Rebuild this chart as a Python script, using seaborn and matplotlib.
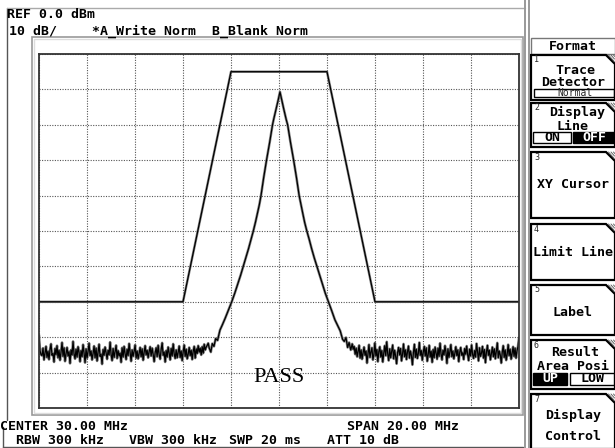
import numpy as np
import pandas as pd
import seaborn as sns
import matplotlib.pyplot as plt
from matplotlib.patches import Rectangle, Polygon

left_noise = [
    -79.4, -83.8, -84.9, -85.2, -83.1, -86.4, -84.4, -82.6, -85.7, -84.0,
    -86.3, -83.5, -81.9, -85.1, -84.6, -87.0, -83.2, -84.9, -82.4, -85.8,
    -83.7, -86.5, -84.2, -81.5, -85.4, -83.0, -86.8, -84.7, -82.9, -85.3,
    -84.1, -87.4, -83.6, -85.0, -81.2, -84.8, -86.1, -83.4, -85.6, -82.7,
    -84.3, -86.9, -83.8, -85.5, -82.1, -84.5, -87.2, -83.3, -85.9, -84.0,
    -81.7, -85.2, -83.9, -86.4, -84.6, -82.5, -85.8, -83.1, -86.7, -84.2,
    -82.0, -85.4, -84.8, -87.6, -83.5, -85.1, -82.8, -84.4, -86.2, -83.7,
    -85.0, -81.4, -84.9, -86.6, -83.2, -85.7, -84.1, -82.3, -86.0, -83.8,
    -85.3, -84.5, -87.1, -83.0, -85.6, -82.6, -84.7, -86.3, -83.4, -85.2,
    -81.8, -84.2, -86.8, -83.6, -85.4, -84.0, -82.2, -85.9, -83.9, -86.1,
    -84.6, -82.9, -85.5, -83.3, -86.5, -84.3, -82.4, -85.0, -83.7, -85.8,
    -84.1, -82.7, -85.3, -83.1, -84.8, -86.9, -84.4, -83.0, -85.5, -82.3,
    -84.9, -86.2, -83.5, -81.6, -85.1, -84.2, -87.0, -83.8, -85.6, -82.8,
    -84.5, -86.4, -83.2, -85.3, -81.9, -84.7, -86.0, -83.6, -85.8, -84.3,
    -82.5, -85.7, -83.9, -86.6, -84.1, -82.2, -85.4, -83.4, -86.1, -84.8,
    -82.9, -85.2, -83.7, -86.3, -84.0, -82.6, -85.9, -83.3, -84.6, -82.4,
    -84.2, -83.1, -85.0, -82.7, -84.5, -82.0, -83.6, -82.8, -82.3, -81.7,
]
right_noise = [
    -81.9, -83.4, -82.6, -84.8, -83.1, -85.5, -84.0, -82.3, -85.9, -83.6,
    -86.2, -84.4, -82.8, -85.1, -83.9, -87.3, -84.6, -82.1, -85.7, -84.2,
    -83.0, -86.4, -84.9, -81.6, -85.3, -83.5, -86.9, -84.1, -82.7, -85.6,
    -83.8, -87.0, -84.5, -82.4, -85.2, -81.3, -84.7, -86.6, -83.3, -85.8,
    -84.0, -82.2, -86.1, -83.7, -85.4, -87.5, -84.3, -82.9, -85.0, -83.2,
    -86.7, -84.8, -81.9, -85.5, -83.6, -86.3, -84.1, -82.5, -85.9, -83.9,
    -85.2, -87.8, -84.4, -82.0, -85.7, -83.4, -86.0, -84.6, -81.5, -85.1,
    -83.8, -86.5, -84.2, -82.6, -85.3, -83.0, -86.8, -84.9, -82.3, -85.6,
    -84.0, -87.1, -83.5, -85.8, -82.8, -84.5, -86.2, -83.1, -85.4, -81.7,
    -84.7, -86.4, -83.7, -85.0, -82.4, -84.3, -87.4, -83.3, -85.7, -84.1,
    -82.1, -85.5, -83.9, -86.1, -84.6, -82.7, -85.2, -83.6, -86.9, -84.2,
    -82.9, -85.1, -84.4, -86.3, -83.2, -84.8, -82.5, -85.0, -86.6, -83.4,
    -85.3, -82.2, -84.9, -86.0, -83.8, -85.6, -81.8, -84.1, -86.7, -83.0,
    -85.4, -84.5, -82.6, -85.9, -83.5, -87.2, -84.2, -82.3, -85.1, -83.7,
    -86.4, -84.7, -82.8, -85.5, -83.3, -86.1, -84.0, -81.6, -85.8, -83.9,
    -85.0, -87.3, -84.3, -82.4, -85.7, -83.6, -86.5, -84.8, -82.1, -85.2,
    -83.4, -86.2, -84.6, -82.7, -85.4, -83.1, -85.9, -83.8, -82.6, -80.1,
]

# carrier skirt: offset from centre (MHz) and level (dBm)
center_mhz = 30.04
peak_offset = [-2.95, -2.88, -2.82, -2.75, -2.68, -2.60, -2.50, -2.40, -2.28, -2.15,
               -2.01, -1.88, -1.76, -1.64, -1.53, -1.42, -1.31, -1.21, -1.11, -1.02,
               -0.94, -0.86, -0.79, -0.68, -0.56, -0.43, -0.31, -0.26, -0.16, -0.07,
               0.0,
               0.07, 0.16, 0.26, 0.32, 0.44, 0.57, 0.69, 0.80, 0.87, 0.95,
               1.03, 1.12, 1.22, 1.32, 1.43, 1.54, 1.65, 1.77, 1.89, 2.02,
               2.16, 2.29, 2.41, 2.51, 2.61, 2.68, 2.75, 2.82, 2.88, 2.95]
peak_db = [-83.0, -84.2, -81.8, -82.6, -80.4, -80.9, -78.0, -76.5, -74.6, -72.4,
           -70.0, -67.5, -65.0, -62.5, -60.0, -57.5, -55.0, -52.5, -50.0, -47.5,
           -45.0, -42.6, -40.0, -35.0, -30.0, -25.0, -20.0, -18.4, -15.5, -12.9,
           -10.7,
           -12.9, -15.6, -18.5, -20.0, -25.0, -30.0, -35.0, -40.0, -42.4, -45.0,
           -47.6, -50.0, -52.4, -55.0, -57.6, -60.0, -62.4, -65.0, -67.6, -70.0,
           -72.6, -75.1, -76.8, -78.2, -80.6, -81.2, -80.1, -82.9, -81.5, -83.6]

# limit line
limit_freq = [20, 26, 28, 32, 34, 40]
limit_db = [-70, -70, -5, -5, -70, -70]

freq = np.concatenate([np.linspace(20.0, 27.05, len(left_noise)),
                       center_mhz + np.array(peak_offset),
                       np.linspace(33.05, 40.0, len(right_noise))])
level = np.concatenate([left_noise, peak_db, right_noise])
trace = pd.DataFrame({"MHz": freq, "dBm": level})
limit = pd.DataFrame({"MHz": limit_freq, "dBm": limit_db})

sns.set_style("white")
plt.rcParams["font.family"] = ["DejaVu Sans Mono", "DejaVu Sans"]

W, H = 615, 448
fig = plt.figure(figsize=(6.15, 4.48), dpi=100)

# screen furniture, in pixel coords
ui = fig.add_axes([0, 0, 1, 1])
ui.set_xlim(0, W)
ui.set_ylim(H, 0)
ui.axis("off")

ui.plot([7, 7], [8, 420], color="#555", lw=1)
ui.plot([7, 525], [8, 8], color="#aaa", lw=1)
ui.plot([3, 3], [427, 448], color="#555", lw=1)
ui.plot([3, 523], [447.5, 447.5], color="#555", lw=1)
ui.add_patch(Rectangle((32, 37), 491, 378, fill=False, ec="#999", lw=1.2))
ui.add_patch(Rectangle((34, 39), 487, 374, fill=False, ec="#ddd", lw=1))
ui.plot([525, 525], [0, H], color="#999", lw=1.4)
ui.plot([528.5, 528.5], [0, H], color="#999", lw=1.4)

tkw = dict(fontsize=9.5, color="black", va="center", fontweight="bold")
ui.text(7, 15, "REF 0.0 dBm", ha="left", **tkw)
ui.text(9, 31, "10 dB/", ha="left", **tkw)
ui.text(92, 31, "*A_Write Norm", ha="left", **tkw)
ui.text(212, 31, "B_Blank Norm", ha="left", **tkw)
ui.text(0, 426, "CENTER 30.00 MHz", ha="left", **tkw)
ui.text(347, 426, "SPAN 20.00 MHz", ha="left", **tkw)
ui.text(16, 441, "RBW 300 kHz", ha="left", **tkw)
ui.text(129, 441, "VBW 300 kHz", ha="left", **tkw)
ui.text(229, 441, "SWP 20 ms", ha="left", **tkw)
ui.text(327, 441, "ATT 10 dB", ha="left", **tkw)

# soft key panel
kx0, kx1 = 531, 615
kc = (kx0 + kx1) / 2
ui.add_patch(Rectangle((kx0, 38), kx1 - kx0, 16, fill=False, ec="#777", lw=1))
ui.text(kc, 47, "Format", ha="center", **tkw)

key_top = [55, 103, 152, 224, 285, 340, 394]
key_bot = [100, 147, 218, 280, 335, 389, 449]
for i, (t, b) in enumerate(zip(key_top, key_bot)):
    ui.add_patch(Polygon([(kx0, b), (kx0, t), (kx1 - 9, t), (kx1, t + 9), (kx1, b)],
                         closed=True, fill=False, ec="black", lw=1.6))
    for d in (2.5, 5, 7.5):
        ui.plot([kx1 - 9 + d, kx1 - 1 + d * 0.1], [t, t + 9 - d], color="#666", lw=0.7)
    ui.text(kx0 + 3, t + 5, str(i + 1), ha="left", fontsize=6, va="center")

ui.text(kc + 2, 70, "Trace", ha="center", **tkw)
ui.text(kc, 83, "Detector", ha="center", **tkw)
ui.add_patch(Rectangle((kx0 + 3, 89), 80, 8, fill=False, ec="black", lw=1))
ui.text(kc + 2, 93, "Normal", ha="center", fontsize=7, va="center")

ui.text(kc + 4, 112, "Display", ha="center", **tkw)
ui.text(kc, 126, "Line", ha="center", **tkw)
ui.add_patch(Rectangle((kx0 + 2, 132), 38, 11, fc="white", ec="black", lw=1))
ui.add_patch(Rectangle((kx0 + 42, 132), 42, 11, fc="black", ec="black", lw=1))
ui.text(kx0 + 21, 137.5, "ON", ha="center", **tkw)
ui.text(kx0 + 63, 137.5, "OFF", ha="center", fontsize=9.5, va="center",
        fontweight="bold", color="white")

ui.text(kc, 184, "XY Cursor", ha="center", **tkw)
ui.text(kc, 252, "Limit Line", ha="center", **tkw)
ui.text(kc, 313, "Label", ha="center", **tkw)

ui.text(kc + 2, 352, "Result", ha="center", **tkw)
ui.text(kc, 366, "Area Posi", ha="center", **tkw)
ui.add_patch(Rectangle((kx0 + 2, 373), 34, 12, fc="black", ec="black", lw=1))
ui.add_patch(Rectangle((kx0 + 39, 373), 44, 12, fc="white", ec="black", lw=1))
ui.text(kx0 + 19, 379, "UP", ha="center", fontsize=9.5, va="center",
        fontweight="bold", color="white")
ui.text(kx0 + 61, 379, "LOW", ha="center", **tkw)

ui.text(kc, 415, "Display", ha="center", **tkw)
ui.text(kc, 436, "Control", ha="center", **tkw)

# measurement graticule
ax = fig.add_axes([39 / W, 1 - 408 / H, 480 / W, 354 / H], zorder=2)
sns.lineplot(data=limit, x="MHz", y="dBm", ax=ax, color="#888", lw=1.8,
             estimator=None, sort=False)
sns.lineplot(data=limit, x="MHz", y="dBm", ax=ax, color="black", lw=0.9,
             estimator=None, sort=False)
sns.lineplot(data=trace, x="MHz", y="dBm", ax=ax, color="#888", lw=1.9,
             estimator=None, sort=False)
sns.lineplot(data=trace, x="MHz", y="dBm", ax=ax, color="black", lw=0.9,
             estimator=None, sort=False)
ax.set_xlim(20, 40)
ax.set_ylim(-100, 0)
ax.set_xticks(np.arange(20, 41, 2))
ax.set_yticks(np.arange(-100, 1, 10))
ax.tick_params(length=0, labelbottom=False, labelleft=False)
ax.set_xlabel("")
ax.set_ylabel("")
ax.grid(True, color="#555", lw=0.8, ls=(0, (1, 1.3)))
for s in ax.spines.values():
    s.set_color("#333")
    s.set_linewidth(1.3)
ax.text(30, -91.5, "PASS", ha="center", va="center", fontsize=16,
        family="Liberation Serif", color="black")

fig.savefig("out.png", dpi=100)
